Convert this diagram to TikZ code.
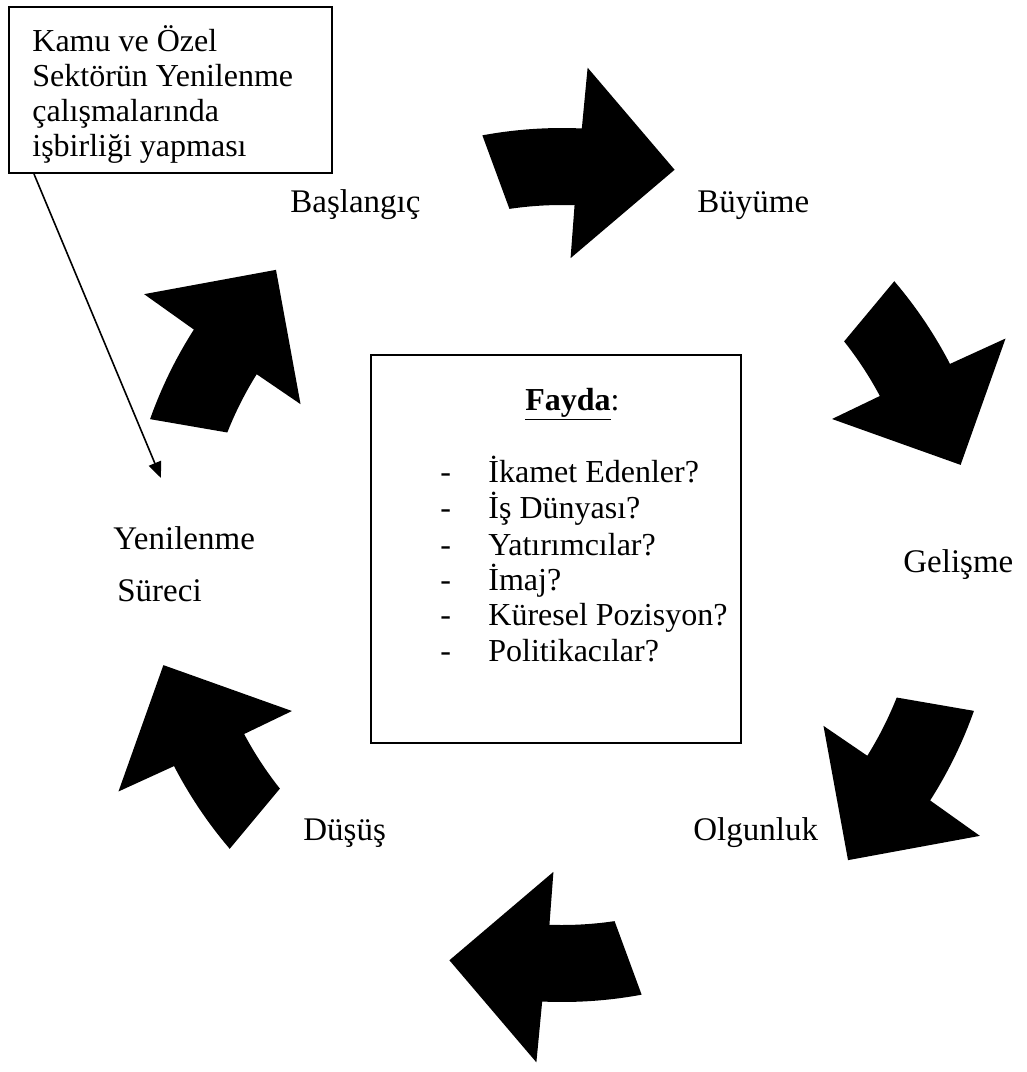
\documentclass[tikz,border=0pt]{standalone}
\usepackage{fontspec}
\setmainfont{Liberation Serif}
\usetikzlibrary{arrows.meta,calc}
\begin{document}
\begin{tikzpicture}[x=0.5pt,y=-0.5pt,
  stage/.style={anchor=base west, inner sep=0pt, font=\fontsize{16.5}{19}\selectfont},
  boxtext/.style={anchor=base west, inner sep=0pt, font=\fontsize{16}{18}\selectfont},
  frame/.style={draw, line width=1pt, inner sep=0pt},
]
\useasboundingbox (0,0) rectangle (1027,1072);

% six curved block arrows on a common circle
\begin{scope}[shift={(562,565)}]
\foreach \p in {-100.5,-40.5,19.5,79.5,139.5,199.5}{
  \fill (\p:437) arc[start angle=\p, end angle={\p+13.1}, radius=437]
     -- ({\p+13.45}:498) -- ({\p+26.4}:411) -- ({\p+12.1}:307)
     -- ({\p+12.5}:360) arc[start angle={\p+12.5}, end angle={\p+2.1}, radius=360] -- cycle;
}
\end{scope}

% stage labels
\node[stage] (baslangic) at (290,212) {Başlangıç};
\node[stage] (buyume) at (697,212) {Büyüme};
\node[stage] (gelisme) at (903,572) {Gelişme};
\node[stage] (olgunluk) at (693,840) {Olgunluk};
\node[stage] (dusus) at (303,840) {Düşüş};
\node[stage] (yenilenme) at (113,549) {Yenilenme};
\node[stage] (sureci) at (117,601) {Süreci};

% note box
\node[frame, minimum width=161.5pt, minimum height=83pt] (kamuBox) at (170.5,90) {};
\node[boxtext] (kamu1) at (32,51) {Kamu ve Özel};
\node[boxtext] (kamu2) at (32,86) {Sektörün Yenilenme};
\node[boxtext] (kamu3) at (32,121) {çalışmalarında};
\node[boxtext] (kamu4) at (32,156) {işbirliği yapması};

\coordinate (renewTip) at (161,478);
\draw[line width=0.8pt, -{Triangle[length=8pt,width=6.5pt]}]
  ([xshift=13pt]kamuBox.south west) -- (renewTip);

% benefit box
\node[frame, minimum width=185pt, minimum height=194pt] (benefitBox) at (556,549) {};
\node[boxtext] (fayda) at (525,410) {\underline{\textbf{Fayda}}:};
\foreach \y/\t [count=\i] in {482/İkamet Edenler?, 518/İş Dünyası?, 555/Yatırımcılar?,
    590/İmaj?, 625/Küresel Pozisyon?, 661/Politikacılar?}{
  \node[boxtext] (dash\i) at (440,\y) {-};
  \node[boxtext] (item\i) at (488,\y) {\t};
}
\end{tikzpicture}
\end{document}
